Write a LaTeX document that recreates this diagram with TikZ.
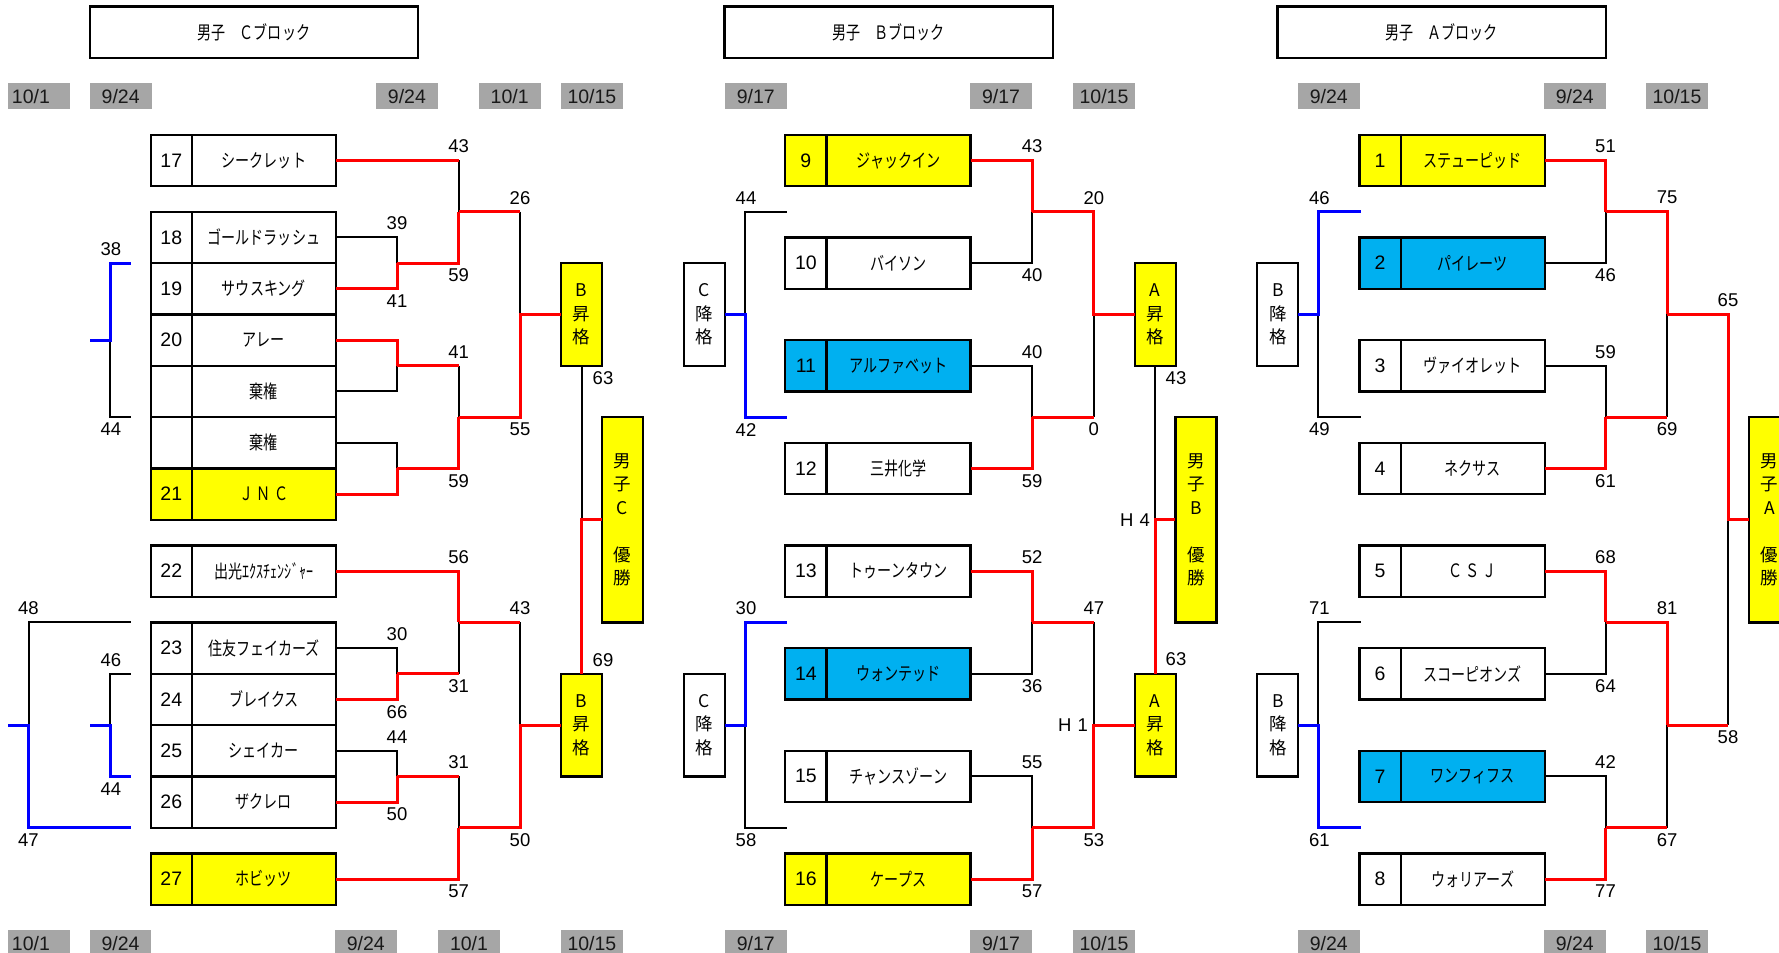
\documentclass[tikz,border=0pt]{standalone}
\usepackage{fontspec}
\setmainfont{Liberation Sans}
\newfontfamily\jp{Noto Sans CJK JP}[FakeStretch=0.76]
\newfontfamily\jpv{Noto Sans CJK JP}
\definecolor{ybox}{HTML}{FFFF00}
\definecolor{cbox}{HTML}{00B0F0}
\definecolor{gbox}{HTML}{A6A6A6}
\definecolor{rline}{HTML}{FF0000}
\definecolor{bline}{HTML}{0000FF}
\newcommand\tbox[6]{\node[numcell,fill=#6] (n#1) at (#2,#3) {#4};\node[namecell,fill=#6] (t#1) at (n#1.north east) {#5};}
\newcommand\scu[3]{\node[sc,yshift=14pt] (#1) at (#2) {#3};}
\newcommand\scd[3]{\node[sc,yshift=-12.5pt] (#1) at (#2) {#3};}
\newcommand\dbox[3]{\node[datebox] (#1) at (#2) {#3};}
\begin{document}
\begin{tikzpicture}[x=1pt,y=-25.667pt,
  numcell/.style={draw,line width=2.3pt,minimum width=41.2pt,minimum height=51.33pt,inner sep=0pt,outer sep=0pt,anchor=north west,font=\fontsize{19.5}{22}\selectfont},
  namecell/.style={draw,line width=2.3pt,minimum width=144pt,minimum height=51.33pt,inner sep=0pt,outer sep=0pt,anchor=north west,font=\jp\fontsize{18.5}{22}\selectfont},
  datebox/.style={fill=gbox,minimum width=61.7pt,minimum height=25.667pt,inner sep=0pt,font=\fontsize{19.5}{22}\selectfont,text=black!90},
  titlebox/.style={draw,line width=2.3pt,minimum width=328.3pt,minimum height=51.33pt,inner sep=0pt,font=\jp\fontsize{18.5}{22}\selectfont},
  vbox/.style={draw,line width=2.3pt,minimum width=41pt,inner sep=0pt,outer sep=0pt,align=center,font=\jpv\fontsize{17.5}{23.5}\selectfont},
  sc/.style={inner sep=0pt,font=\fontsize{18.5}{22}\selectfont},
  win/.style={draw=rline,line width=3pt},
  bwin/.style={draw=bline,line width=3pt},
  lose/.style={draw=black,line width=2pt}]
\useasboundingbox (0,-5.248) rectangle (1779,31.843);
% titles
\node[titlebox] (ttlC) at (253.9,-4) {男子　Ｃブロック};
\node[titlebox] (ttlB) at (888.75,-4) {男子　Ｂブロック};
\node[titlebox] (ttlA) at (1441.75,-4) {男子　Ａブロック};
% dates top
\node[datebox,text width=54pt,align=left] (d1) at (39,-1.5) {10/1};
\dbox{d2}{120.7,-1.5}{9/24}
\dbox{d3}{406.9,-1.5}{9/24}
\dbox{d4}{509.7,-1.5}{10/1}
\dbox{d5}{591.9,-1.5}{10/15}
\dbox{d6}{755.75,-1.5}{9/17}
\dbox{d7}{1001,-1.5}{9/17}
\dbox{d8}{1104,-1.5}{10/15}
\dbox{d9}{1328.75,-1.5}{9/24}
\dbox{d10}{1574.75,-1.5}{9/24}
\dbox{d11}{1677,-1.5}{10/15}
% dates bottom
\node[datebox,text width=54pt,align=left] (e1) at (39,31.5) {10/1};
\dbox{e2}{120.5,31.5}{9/24}
\dbox{e3}{365.8,31.5}{9/24}
\dbox{e4}{469,31.5}{10/1}
\dbox{e5}{591.9,31.5}{10/15}
\dbox{e6}{755.75,31.5}{9/17}
\dbox{e7}{1001,31.5}{9/17}
\dbox{e8}{1104,31.5}{10/15}
\dbox{e9}{1328.75,31.5}{9/24}
\dbox{e10}{1574.75,31.5}{9/24}
\dbox{e11}{1677,31.5}{10/15}
% C block teams
\tbox{17}{150.7}{0}{17}{シークレット}{white}
\tbox{18}{150.7}{3}{18}{ゴールドラッシュ}{white}
\tbox{19}{150.7}{5}{19}{サウスキング}{white}
\tbox{20}{150.7}{7}{20}{アレー}{white}
\tbox{w1}{150.7}{9}{}{棄権}{white}
\tbox{w2}{150.7}{11}{}{棄権}{white}
\tbox{21}{150.7}{13}{21}{Ｊ\,Ｎ\,Ｃ}{ybox}
\tbox{22}{150.7}{16}{22}{出光ｴｸｽﾁｪﾝｼﾞｬｰ}{white}
\tbox{23}{150.7}{19}{23}{住友フェイカーズ}{white}
\tbox{24}{150.7}{21}{24}{ブレイクス}{white}
\tbox{25}{150.7}{23}{25}{シェイカー}{white}
\tbox{26}{150.7}{25}{26}{ザクレロ}{white}
\tbox{27}{150.7}{28}{27}{ホビッツ}{ybox}
% B block teams
\tbox{9}{785.3}{0}{9}{ジャックイン}{ybox}
\tbox{10}{785.3}{4}{10}{バイソン}{white}
\tbox{11}{785.3}{8}{11}{アルファベット}{cbox}
\tbox{12}{785.3}{12}{12}{三井化学}{white}
\tbox{13}{785.3}{16}{13}{トゥーンタウン}{white}
\tbox{14}{785.3}{20}{14}{ウォンテッド}{cbox}
\tbox{15}{785.3}{24}{15}{チャンスゾーン}{white}
\tbox{16}{785.3}{28}{16}{ケープス}{ybox}
% A block teams
\tbox{1}{1359.5}{0}{1}{ステューピッド}{ybox}
\tbox{2}{1359.5}{4}{2}{パイレーツ}{cbox}
\tbox{3}{1359.5}{8}{3}{ヴァイオレット}{white}
\tbox{4}{1359.5}{12}{4}{ネクサス}{white}
\tbox{5}{1359.5}{16}{5}{Ｃ\,Ｓ\,Ｊ}{white}
\tbox{6}{1359.5}{20}{6}{スコーピオンズ}{white}
\tbox{7}{1359.5}{24}{7}{ワンフィフス}{cbox}
\tbox{8}{1359.5}{28}{8}{ウォリアーズ}{white}
% vertical boxes
\node[vbox,fill=ybox,minimum height=102.67pt] (pCt) at (581.65,7) {B\\昇\\格};
\node[vbox,fill=ybox,minimum height=102.67pt] (pCb) at (581.65,23) {B\\昇\\格};
\node[vbox,fill=ybox,minimum height=205.33pt] (chC) at (622.4,15) {男\\子\\C\\\mbox{}\\優\\勝};
\node[vbox,fill=white,minimum height=102.67pt] (dBt) at (704.4,7) {C\\降\\格};
\node[vbox,fill=white,minimum height=102.67pt] (dBb) at (704.4,23) {C\\降\\格};
\node[vbox,fill=ybox,minimum height=102.67pt] (pBt) at (1155.2,7) {A\\昇\\格};
\node[vbox,fill=ybox,minimum height=102.67pt] (pBb) at (1155.2,23) {A\\昇\\格};
\node[vbox,fill=ybox,minimum height=205.33pt] (chB) at (1195.85,15) {男\\子\\B\\\mbox{}\\優\\勝};
\node[vbox,fill=white,minimum height=102.67pt] (dAt) at (1277.75,7) {B\\降\\格};
\node[vbox,fill=white,minimum height=102.67pt] (dAb) at (1277.75,23) {B\\降\\格};
\node[vbox,fill=ybox,minimum height=205.33pt] (chA) at (1769.5,15) {男\\子\\A\\\mbox{}\\優\\勝};
% coordinates C
\coordinate (cm1) at (397,5);
\coordinate (cm2) at (458.7,3);
\coordinate (cm3) at (397,9);
\coordinate (cm4) at (397,13);
\coordinate (cm5) at (458.7,11);
\coordinate (cm6) at (520,7);
\coordinate (cm7) at (397,21);
\coordinate (cm8) at (458.7,19);
\coordinate (cm9) at (397,25);
\coordinate (cm10) at (458.7,27);
\coordinate (cm11) at (520,23);
\coordinate (cf) at (581.65,15);
% coordinates B
\coordinate (bm1) at (1032.2,3);
\coordinate (bm2) at (1032.2,11);
\coordinate (bm3) at (1093.8,7);
\coordinate (bm4) at (1032.2,19);
\coordinate (bm5) at (1032.2,27);
\coordinate (bm6) at (1093.8,23);
\coordinate (bf) at (1155.2,15);
% coordinates A
\coordinate (am1) at (1605.5,3);
\coordinate (am2) at (1605.5,11);
\coordinate (am3) at (1667.1,7);
\coordinate (am4) at (1605.5,19);
\coordinate (am5) at (1605.5,27);
\coordinate (am6) at (1667.1,23);
\coordinate (am7) at (1728,15);
% left side coordinates
\coordinate (cl1) at (110,8);   \coordinate (cl1a) at (130.5,5);  \coordinate (cl1b) at (130.5,11); \coordinate (cl1o) at (90,8);
\coordinate (cl2) at (110,23);  \coordinate (cl2a) at (130.5,21); \coordinate (cl2b) at (130.5,25); \coordinate (cl2o) at (90,23);
\coordinate (cl3) at (28.5,23); \coordinate (cl3a) at (130.5,19); \coordinate (cl3b) at (130.5,27); \coordinate (cl3o) at (7.9,23);
\coordinate (bl1) at (745.1,7);  \coordinate (bl1a) at (786.5,3);  \coordinate (bl1b) at (786.5,11);
\coordinate (bl2) at (745.1,23); \coordinate (bl2a) at (786.5,19); \coordinate (bl2b) at (786.5,27);
\coordinate (al1) at (1318.2,7);  \coordinate (al1a) at (1360.6,3);  \coordinate (al1b) at (1360.6,11);
\coordinate (al2) at (1318.2,23); \coordinate (al2a) at (1360.6,19); \coordinate (al2b) at (1360.6,27);
% black lines
\draw[lose] (t18.east) -| (cm1);
\draw[lose] (t17.east -| cm2) -- (cm2);
\draw[lose] (tw1.east) -| (cm3);
\draw[lose] (tw2.east) -| (cm4);
\draw[lose] (cm3 -| cm5) -- (cm5);
\draw[lose] (cm2 -| cm6) -- (cm6);
\draw[lose] (t23.east) -| (cm7);
\draw[lose] (cm7 -| cm8) -- (cm8);
\draw[lose] (t25.east) -| (cm9);
\draw[lose] (cm9 -| cm10) -- (cm10);
\draw[lose] (cm8 -| cm11) -- (cm11);
\draw[lose] (pCt.south) -- (cf);
\draw[lose] (t10.east) -| (bm1);
\draw[lose] (t11.east) -| (bm2);
\draw[lose] (bm2 -| bm3) -- (bm3);
\draw[lose] (t14.east) -| (bm4);
\draw[lose] (t15.east) -| (bm5);
\draw[lose] (bm4 -| bm6) -- (bm6);
\draw[lose] (pBt.south) -- (bf);
\draw[lose] (t2.east) -| (am1);
\draw[lose] (t3.east) -| (am2);
\draw[lose] (am2 -| am3) -- (am3);
\draw[lose] (t6.east) -| (am4);
\draw[lose] (t7.east) -| (am5);
\draw[lose] (am5 -| am6) -- (am6);
\draw[lose] (am6 -| am7) -- (am7);
\draw[lose] (cl1b) -| (cl1);
\draw[lose] (cl2a) -| (cl2);
\draw[lose] (cl3a) -| (cl3);
\draw[lose] (bl1a) -| (bl1);
\draw[lose] (bl2b) -| (bl2);
\draw[lose] (al1b) -| (al1);
\draw[lose] (al2a) -| (al2);
% red lines C
\draw[win] (t19.east) -| (cm1);
\draw[win] (t17.east) -- (t17.east -| cm2);
\draw[win] (cm1) -| (cm2);
\draw[win] (t20.east) -| (cm3);
\draw[win] (t21.east) -| (cm4);
\draw[win] (cm3) -- (cm3 -| cm5);
\draw[win] (cm4) -| (cm5);
\draw[win] (cm2) -- (cm2 -| cm6);
\draw[win] (cm5) -| (cm6) -- (pCt.west);
\draw[win] (t24.east) -| (cm7);
\draw[win] (t22.east) -| (cm8);
\draw[win] (cm7) -- (cm7 -| cm8);
\draw[win] (t26.east) -| (cm9);
\draw[win] (cm9) -- (cm9 -| cm10);
\draw[win] (t27.east) -| (cm10);
\draw[win] (cm8) -- (cm8 -| cm11);
\draw[win] (cm10) -| (cm11) -- (pCb.west);
\draw[win] (pCb.north) -- (cf) -- (chC.west);
% red lines B
\draw[win] (t9.east) -| (bm1);
\draw[win] (t12.east) -| (bm2);
\draw[win] (bm1) -| (bm3) -- (pBt.west);
\draw[win] (bm2) -- (bm2 -| bm3);
\draw[win] (t13.east) -| (bm4);
\draw[win] (t16.east) -| (bm5);
\draw[win] (bm4) -- (bm4 -| bm6);
\draw[win] (bm5) -| (bm6) -- (pBb.west);
\draw[win] (pBb.north) -- (bf) -- (chB.west);
% red lines A
\draw[win] (t1.east) -| (am1);
\draw[win] (t4.east) -| (am2);
\draw[win] (am1) -| (am3);
\draw[win] (am2) -- (am2 -| am3);
\draw[win] (t5.east) -| (am4);
\draw[win] (t8.east) -| (am5);
\draw[win] (am4) -| (am6);
\draw[win] (am5) -- (am5 -| am6);
\draw[win] (am3) -| (am7) -- (chA.west);
\draw[win] (am6) -- (am6 -| am7);
% blue lines
\draw[bwin] (cl1a) -| (cl1) -- (cl1o);
\draw[bwin] (cl2b) -| (cl2) -- (cl2o);
\draw[bwin] (cl3b) -| (cl3) -- (cl3o);
\draw[bwin] (bl1b) -| (bl1) -- (dBt.east);
\draw[bwin] (bl2a) -| (bl2) -- (dBb.east);
\draw[bwin] (al1a) -| (al1) -- (dAt.east);
\draw[bwin] (al2b) -| (al2) -- (dAb.east);
% scores C
\scu{s1}{458.7,1}{43}
\scu{s2}{397,4}{39}
\scd{s3}{397,6}{41}
\scd{s4}{458.7,5}{59}
\scu{s5}{520,3}{26}
\scu{s6}{458.7,9}{41}
\scd{s7}{458.7,13}{59}
\scd{s8}{520,11}{55}
\scu{s9}{458.7,17}{56}
\scu{s10}{397,20}{30}
\scd{s11}{397,22}{66}
\scd{s12}{458.7,21}{31}
\scu{s13}{520,19}{43}
\scu{s14}{397,24}{44}
\scd{s15}{397,26}{50}
\scu{s16}{458.7,25}{31}
\scd{s17}{458.7,29}{57}
\scd{s18}{520,27}{50}
\node[sc] (s19) at (603,9.47) {63};
\node[sc] (s20) at (603,20.47) {69};
\scu{s21}{111,5}{38}
\scd{s22}{111,11}{44}
\scu{s23}{111,21}{46}
\scd{s24}{111,25}{44}
\scu{s25}{28.5,19}{48}
\scd{s26}{28.5,27}{47}
% scores B
\scu{s31}{1032.2,1}{43}
\scd{s32}{1032.2,5}{40}
\scu{s33}{1032.2,9}{40}
\scd{s34}{1032.2,13}{59}
\scu{s35}{1093.8,3}{20}
\scd{s36}{1093.8,11}{0}
\scu{s37}{1032.2,17}{52}
\scd{s38}{1032.2,21}{36}
\scu{s39}{1032.2,25}{55}
\scd{s40}{1032.2,29}{57}
\scu{s41}{1093.8,19}{47}
\scd{s42}{1093.8,27}{53}
\node[sc] (h1) at (1073,23) {H\,\,1};
\node[sc] (h4) at (1135,15) {H\,\,4};
\node[sc] (s43) at (1176,9.47) {43};
\node[sc] (s44) at (1176,20.45) {63};
\scu{s45}{746,3}{44}
\scd{s46}{746,11}{42}
\scu{s47}{746,19}{30}
\scd{s48}{746,27}{58}
% scores A
\scu{s51}{1605.5,1}{51}
\scd{s52}{1605.5,5}{46}
\scu{s53}{1605.5,9}{59}
\scd{s54}{1605.5,13}{61}
\scu{s55}{1667.1,3}{75}
\scd{s56}{1667.1,11}{69}
\scu{s57}{1605.5,17}{68}
\scd{s58}{1605.5,21}{64}
\scu{s59}{1605.5,25}{42}
\scd{s60}{1605.5,29}{77}
\scu{s61}{1667.1,19}{81}
\scd{s62}{1667.1,27}{67}
\scu{s63}{1728,7}{65}
\scd{s64}{1728,23}{58}
\scu{s65}{1319.3,3}{46}
\scd{s66}{1319.3,11}{49}
\scu{s67}{1319.3,19}{71}
\scd{s68}{1319.3,27}{61}
\end{tikzpicture}
\end{document}
